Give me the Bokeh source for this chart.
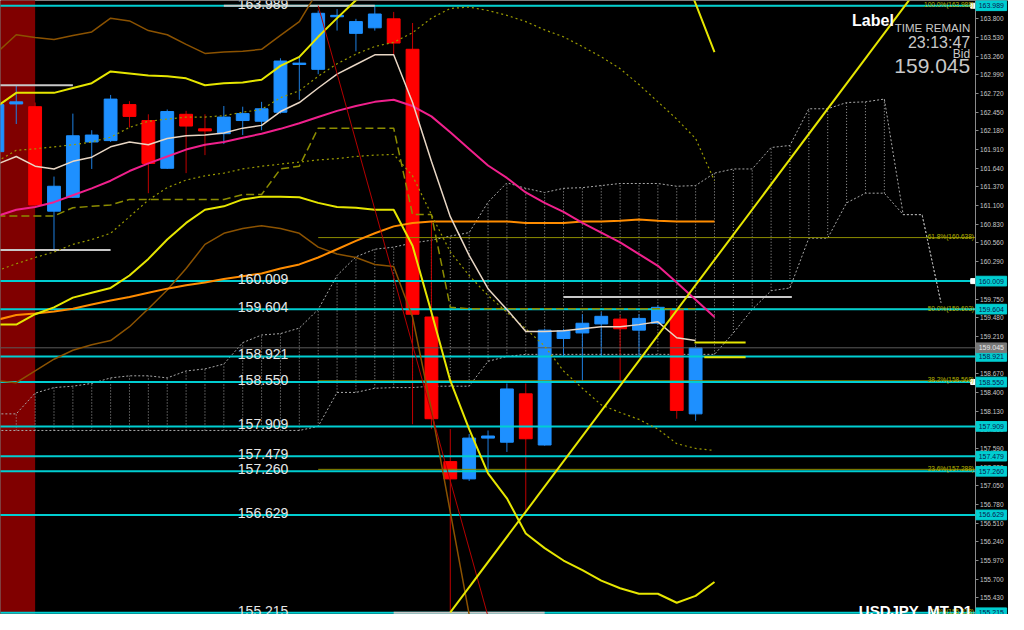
from bokeh.plotting import figure
from bokeh.models import Range1d, FixedTicker, PrintfTickFormatter, Label, ColumnDataSource
from bokeh.embed import file_html
from bokeh.resources import INLINE
from bokeh.core.properties import value

FONT = "Liberation Sans"

# ---------------- data ----------------
bars = list(range(38))
opens = [161.88, 162.57, 162.53, 161.02, 161.22, 162.02, 162.04, 162.56, 162.33, 161.64,
         162.42, 162.21, 162.14, 162.33, 162.32, 162.45, 163.14, 163.07, 163.83, 163.59,
         163.67, 163.80, 163.36, 159.49, 157.40, 157.15, 157.74, 157.68, 158.38, 157.64,
         159.18, 159.26, 159.39, 159.46, 159.30, 159.40, 159.59, 158.09]
highs = [162.66, 162.84, 162.59, 161.52, 162.43, 162.19, 162.70, 162.61, 162.42, 162.49,
         162.47, 162.42, 162.54, 162.53, 162.60, 163.23, 163.25, 163.92, 163.94, 163.80,
         163.99, 163.90, 163.74, 160.87, 157.87, 157.80, 157.85, 158.53, 158.53, 159.32,
         159.32, 159.53, 159.56, 159.52, 159.53, 159.66, 159.60, 159.07]
lows = [161.81, 162.28, 161.08, 160.47, 161.21, 161.63, 162.02, 162.23, 161.28, 161.63,
        161.57, 161.83, 161.99, 162.12, 162.19, 162.43, 162.63, 163.00, 163.63, 163.33,
        163.63, 163.29, 157.94, 157.87, 155.22, 157.12, 157.26, 157.54, 156.67, 157.63,
        158.92, 158.57, 158.92, 158.57, 158.92, 159.38, 158.02, 157.99]
closes = [162.56, 162.60, 161.11, 161.38, 162.11, 162.12, 162.64, 162.39, 161.71, 162.46,
          162.25, 162.18, 162.38, 162.43, 162.50, 163.19, 163.16, 163.88, 163.85, 163.76,
          163.87, 163.45, 159.53, 158.02, 157.15, 157.74, 157.77, 158.45, 157.73, 159.30,
          159.29, 159.40, 159.50, 159.32, 159.47, 159.63, 158.14, 159.045]

ma_fast = [161.70, 161.81, 161.67, 161.63, 161.74, 161.80, 161.95, 162.02, 161.98, 162.07,
           162.11, 162.12, 162.15, 162.22, 162.26, 162.46, 162.59, 162.80, 163.00, 163.14,
           163.28, 163.28, 162.59, 161.74, 160.94, 160.38, 159.90, 159.60, 159.28, 159.28,
           159.29, 159.32, 159.35, 159.35, 159.38, 159.42, 159.19, 159.15]

ind_idx = list(range(39))
ma_mid = [160.95, 161.04, 161.08, 161.15, 161.25, 161.35, 161.46, 161.60, 161.71, 161.81,
          161.91, 161.98, 162.02, 162.08, 162.14, 162.21, 162.29, 162.38, 162.47, 162.54,
          162.60, 162.63, 162.54, 162.39, 162.16, 161.92, 161.68, 161.50, 161.29, 161.14,
          161.01, 160.85, 160.71, 160.57, 160.40, 160.23, 159.99, 159.74, 159.49]
band_upper = [162.54, 162.73, 162.73, 162.73, 162.80, 162.87, 163.04, 163.01, 162.98, 162.97,
              162.94, 162.84, 162.87, 162.88, 162.92, 163.12, 163.25, 163.54, 163.81, 164.07,
              164.21, 164.30, 164.56, 165.25, 165.70, 165.98, 166.16, 166.18, 166.18, 166.12,
              166.05, 165.88, 165.74, 165.57, 165.32, 164.98, 164.68, 164.02, 163.32]
band_lower = [159.38, 159.38, 159.53, 159.63, 159.77, 159.84, 159.91, 160.09, 160.33, 160.61,
              160.85, 161.04, 161.09, 161.19, 161.23, 161.23, 161.22, 161.14, 161.08, 161.07,
              161.04, 161.04, 160.52, 159.56, 158.57, 157.87, 157.23, 156.87, 156.36, 156.15,
              155.97, 155.83, 155.68, 155.57, 155.49, 155.49, 155.36, 155.46, 155.66]
ma_slow = [159.45, 159.52, 159.54, 159.57, 159.61, 159.67, 159.73, 159.78, 159.84, 159.90,
           159.95, 159.99, 160.04, 160.08, 160.12, 160.19, 160.25, 160.35, 160.47, 160.59,
           160.70, 160.80, 160.85, 160.87, 160.87, 160.87, 160.87, 160.87, 160.85, 160.85,
           160.85, 160.87, 160.87, 160.88, 160.90, 160.88, 160.87, 160.87, 160.87]
arc_line = [161.74, 161.90, 161.92, 161.95, 161.98, 162.02, 162.09, 162.23, 162.32, 162.35,
            162.38, 162.38, 162.40, 162.45, 162.49, 162.66, 162.76, 162.97, 163.15, 163.29,
            163.40, 163.46, 163.60, 163.81, 163.95, 163.97, 163.92, 163.85, 163.76, 163.64,
            163.54, 163.40, 163.25, 163.08, 162.85, 162.60, 162.35, 162.07, 161.46]
tenkan = [160.16, 160.26, 160.35, 160.43, 160.54, 160.61, 160.70, 160.94, 161.18, 161.36,
          161.47, 161.53, 161.57, 161.63, 161.67, 161.70, 161.73, 161.76, 161.78, 161.81,
          161.83, 161.84, 161.53, 160.97, 160.43, 160.09, 159.80, 159.56, 159.32, 159.07,
          158.71, 158.46, 158.22, 158.11, 158.01, 157.87, 157.66, 157.59, 157.56]
kijun = [160.95, 160.95, 160.95, 160.95, 161.07, 161.09, 161.11, 161.19, 161.19, 161.19,
         161.19, 161.19, 161.19, 161.26, 161.26, 161.63, 161.67, 162.22, 162.22, 162.22,
         162.22, 162.22, 160.97, 160.97, 159.63, 159.61, 159.61, 159.61, 159.61, 159.61,
         159.61, 159.61, 159.61, 159.61, 159.61, 159.61, 159.61, 159.61]

wide_upper_idx = list(range(19))
wide_upper = [163.32, 163.57, 163.53, 163.50, 163.56, 163.61, 163.81, 163.77, 163.63, 163.57,
              163.43, 163.30, 163.32, 163.33, 163.36, 163.56, 163.76, 164.21, 164.63]
wide_lower_idx = list(range(27))
wide_lower = [158.57, 158.54, 158.71, 158.88, 159.01, 159.09, 159.15, 159.35, 159.61, 159.88,
              160.19, 160.54, 160.70, 160.77, 160.81, 160.77, 160.70, 160.50, 160.40, 160.35,
              160.25, 160.22, 159.49, 158.15, 156.67, 155.19, 153.71]

cloud_idx = list(range(51))
span_a = [158.09, 158.09, 158.39, 158.47, 158.49, 158.53, 158.61, 158.64, 158.64, 158.61,
          158.71, 158.74, 158.81, 159.12, 159.23, 159.25, 159.33, 159.60, 160.09, 160.36,
          160.47, 160.50, 160.56, 160.60, 160.66, 160.71, 161.15, 161.43, 161.35, 161.29,
          161.35, 161.36, 161.39, 161.42, 161.42, 161.42, 161.38, 161.39, 161.57, 161.63,
          161.63, 161.94, 161.97, 162.50, 162.50, 162.59, 162.60, 162.64, 160.97, 160.97,
          159.70]
span_b = [157.85, 157.85, 157.85, 157.85, 157.85, 157.85, 157.85, 157.85, 157.85, 157.85,
          157.85, 157.85, 157.85, 157.85, 157.85, 157.85, 157.85, 157.91, 158.40, 158.40,
          158.46, 158.47, 158.47, 158.49, 158.49, 158.49, 158.85, 158.92, 158.95, 158.95,
          158.95, 158.95, 158.95, 158.95, 158.95, 158.95, 158.95, 158.95, 158.95, 159.26,
          159.60, 159.87, 159.91, 160.63, 160.63, 161.14, 161.28, 161.28, 160.97, 160.97,
          159.70]

level_prices = [163.989, 160.009, 159.604, 158.921, 158.550, 157.909, 157.479, 157.260, 156.629, 155.215]
level_texts = ["163.989", "160.009", "159.604", "158.921", "158.550", "157.909", "157.479",
               "157.260", "156.629", "155.215"]
end_marks = [163.989, 160.009, 158.550]
bid_price = 159.045
bid_text = "159.045"

fib_prices = [163.988, 160.638, 159.603, 158.568, 157.288, 155.218]
fib_start = [20, 17, 17, 17, 17, 29]
fib_texts = ["100.0%(163.988)", "61.8%(160.638)", "50.0%(159.603)", "38.2%(158.568)",
             "23.6%(157.288)", "0.0%(155.218)"]

hl_x0 = [-1, -1, 12, 21, 30]
hl_x1 = [4, 6, 20, 29, 42.1]
hl_price = [162.84, 160.46, 163.989, 155.215, 159.78]

mark_x0 = [36.94, 37.46]
mark_x1 = [39.65, 39.65]
mark_price = [159.12, 158.91]

red_trend_x = [17.0, 27.0]
red_trend_y = [163.99, 154.18]
yel_trend_x = [24.0, 49.0]
yel_trend_y = [155.22, 164.32]

session_left = [-1.0]
session_right = [2.0]

axis_ticks = [163.80, 163.53, 163.26, 162.99, 162.72, 162.45, 162.18, 161.91, 161.64, 161.37,
              161.10, 160.83, 160.56, 160.29, 160.02, 159.75, 159.48, 159.21, 158.94, 158.67,
              158.40, 158.13, 157.86, 157.59, 157.32, 157.05, 156.78, 156.51, 156.24, 155.97,
              155.70, 155.43]

# ---------------- layout constants ----------------
CHART_END = 51.81      # bar-index position of the price-axis line
BOX_X = 52.67          # centre of the price boxes on the axis
BOX_W = 1.62
BOX_H = 0.14
LABEL_X = 12.74

# ---------------- figure ----------------
p = figure(width=1008, height=614,
           x_range=Range1d(0.165, 53.58), y_range=Range1d(155.19, 164.065),
           x_axis_location=None, y_axis_location="right",
           output_backend="svg", toolbar_location=None,
           background_fill_color="#000000", border_fill_color="#000000",
           outline_line_color=None, min_border=0)
p.grid.visible = False

ax = p.yaxis[0]
ax.fixed_location = CHART_END
ax.ticker = FixedTicker(ticks=axis_ticks)
ax.formatter = PrintfTickFormatter(format="%.3f")
ax.major_label_text_font = FONT
ax.major_label_text_font_size = "6.5px"
ax.major_label_text_color = "#c8c8c8"
ax.major_label_standoff = 2
ax.major_tick_out = 3
ax.major_tick_in = 0
ax.minor_tick_out = 0
ax.minor_tick_in = 0
ax.axis_line_color = "#8a8a8a"
ax.major_tick_line_color = "#8a8a8a"

# session highlight
p.quad(left=session_left, right=session_right, bottom=[150], top=[170],
       fill_color="#800000", line_color=None)

# ichimoku cloud
p.segment(x0=cloud_idx, y0=span_b, x1=cloud_idx, y1=span_a,
          line_color="#a0a0a0", line_dash="1 2", line_width=1)
p.line(cloud_idx, span_a, line_color="#a8a8a8", line_dash="2 2", line_width=1)
p.line(cloud_idx, span_b, line_color="#a8a8a8", line_dash="2 2", line_width=1)

# candles
bull = [c >= o for o, c in zip(opens, closes)]
src = ColumnDataSource(dict(
    x=bars, high=highs, low=lows,
    top=[max(o, c) for o, c in zip(opens, closes)],
    bottom=[min(o, c) for o, c in zip(opens, closes)],
    body=["#1e90ff" if b else "#ff0000" for b in bull],
    wick=["#1e7fe0" if b else "#c00000" for b in bull],
))
p.segment(x0="x", y0="low", x1="x", y1="high", line_color="wick", line_width=1, source=src)
p.vbar(x="x", width=0.68, top="top", bottom="bottom", fill_color="body",
       line_color="body", line_width=1, source=src)

# fibonacci
p.segment(x0=fib_start, y0=fib_prices, x1=[CHART_END] * len(fib_prices), y1=fib_prices,
          line_color="#8c8c00", line_width=1)

# horizontal levels
p.segment(x0=[-5] * len(level_prices), y0=level_prices, x1=[CHART_END] * len(level_prices),
          y1=level_prices, line_color="#00ced1", line_width=2)
p.segment(x0=[-5], y0=[bid_price], x1=[CHART_END], y1=[bid_price], line_color="#5a5a5a", line_width=1)
p.segment(x0=hl_x0, y0=hl_price, x1=hl_x1, y1=hl_price, line_color="#c8c8c8", line_width=2)

# indicators
p.line(wide_upper_idx, wide_upper, line_color="#8b5200", line_width=1.5)
p.line(wide_lower_idx, wide_lower, line_color="#8b5200", line_width=1.5)
p.line(ind_idx, ma_slow, line_color="#ff8c00", line_width=2)
p.line(ind_idx, arc_line, line_color="#9a9a00", line_width=1.2, line_dash="2 3")
p.line(ind_idx, tenkan, line_color="#9a9a00", line_width=1.2, line_dash="2 3")
p.line(bars, kijun, line_color="#8c8c00", line_width=1.5, line_dash="8 4")
p.line(ind_idx, band_upper, line_color="#e6e600", line_width=2)
p.line(ind_idx, band_lower, line_color="#e6e600", line_width=2)
p.line(ind_idx, ma_mid, line_color="#f0208c", line_width=2)
p.line(bars, ma_fast, line_color="#e8d6c4", line_width=1.5)

# trend lines and marks
p.line(red_trend_x, red_trend_y, line_color="#b40000", line_width=1)
p.line(yel_trend_x, yel_trend_y, line_color="#e6e600", line_width=2)
p.segment(x0=mark_x0, y0=mark_price, x1=mark_x1, y1=mark_price, line_color="#e6e600", line_width=2)
p.scatter(x=[CHART_END - 0.1] * len(end_marks), y=end_marks, marker="square", size=5,
          fill_color="#ffffff", line_color="#ffffff")

# level texts
p.text(x=[LABEL_X] * len(level_prices), y=level_prices, text=level_texts,
       text_font=value(FONT), text_font_size="14px", text_color="#e6e6e6",
       text_baseline="alphabetic", text_align="left", y_offset=-2)

# fib texts
p.text(x=[CHART_END - 0.06] * len(fib_prices), y=fib_prices, text=fib_texts,
       text_font=value(FONT), text_font_size="6.5px", text_color="#b4b400",
       text_baseline="alphabetic", text_align="right", y_offset=-1)

# price boxes on the axis (drawn above the axis labels)
p.rect(x=[BOX_X] * len(level_prices), y=level_prices, width=BOX_W, height=BOX_H,
       fill_color="#00ced1", line_color="#00ced1", level="overlay")
p.text(x=[BOX_X] * len(level_prices), y=level_prices, text=level_texts,
       text_font=value(FONT), text_font_size="7px", text_color="#0a2050",
       text_baseline="middle", text_align="center", level="overlay")
p.rect(x=[BOX_X], y=[bid_price], width=BOX_W, height=BOX_H,
       fill_color="#787878", line_color="#787878", level="overlay")
p.text(x=[BOX_X], y=[bid_price], text=[bid_text],
       text_font=value(FONT), text_font_size="7px", text_color="#e8e8e8",
       text_baseline="middle", text_align="center", level="overlay")

# info texts
p.add_layout(Label(x=45.29, y=163.90, text="Label", text_font=FONT, text_font_size="16px",
                   text_font_style="bold", text_color="#ffffff", text_baseline="top"))
p.add_layout(Label(x=51.55, y=163.755, text="TIME REMAIN", text_font=FONT, text_font_size="11.5px",
                   text_color="#c8c8c8", text_baseline="top", text_align="right"))
p.add_layout(Label(x=51.55, y=163.58, text="23:13:47", text_font=FONT, text_font_size="16px",
                   text_color="#c8c8c8", text_baseline="top", text_align="right"))
p.add_layout(Label(x=51.55, y=163.39, text="Bid", text_font=FONT, text_font_size="12px",
                   text_color="#c8c8c8", text_baseline="top", text_align="right"))
p.add_layout(Label(x=51.55, y=163.22, text="159.045", text_font=FONT, text_font_size="21px",
                   text_color="#c8c8c8", text_baseline="top", text_align="right"))
p.add_layout(Label(x=45.65, y=155.375, text="USDJPY_MT D1", text_font=FONT, text_font_size="15px",
                   text_font_style="bold", text_color="#ffffff", text_baseline="top"))

open("out.html", "w").write(file_html(p, INLINE))
